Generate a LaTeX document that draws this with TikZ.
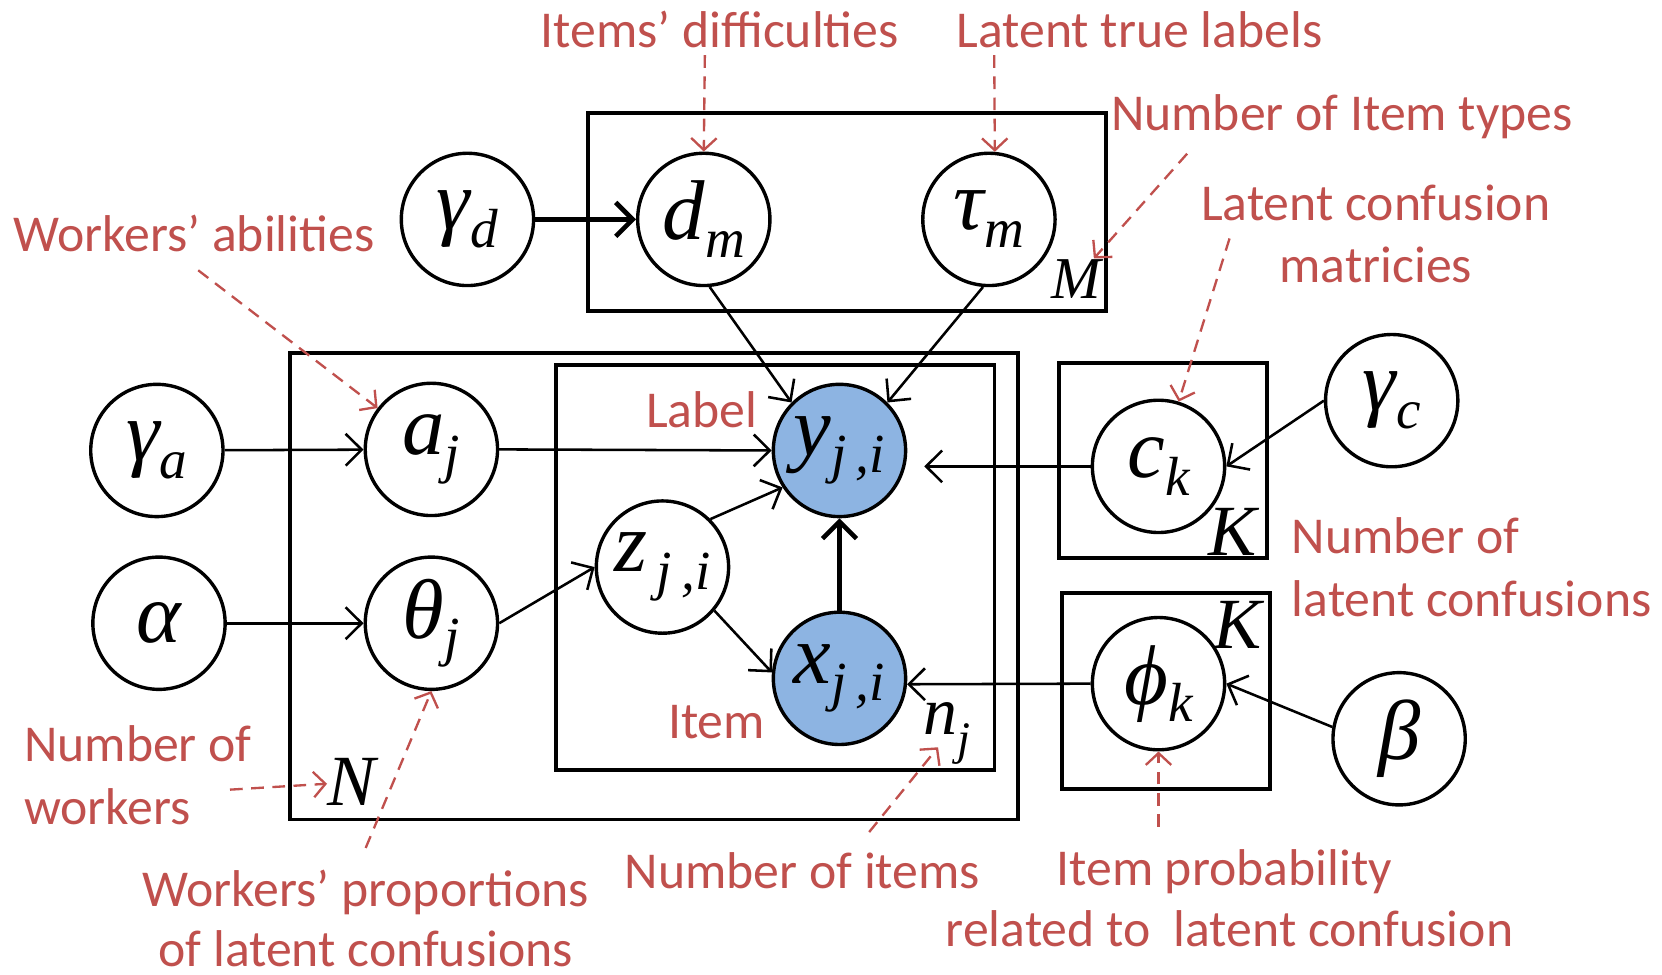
\documentclass[tikz,border=0pt]{standalone}
\usepackage{fontspec}
\setmainfont{Carlito}
\newfontfamily\mf{Liberation Serif}
\usetikzlibrary{arrows.meta}
\definecolor{lred}{RGB}{192,80,77}
\definecolor{obsblue}{RGB}{141,180,226}
\newcommand\mvar[2]{{\mf\itshape\fontsize{20}{20}\selectfont #1}\raisebox{-4.2pt}{\mf\itshape\fontsize{13}{13}\selectfont #2}}
\newcommand\mone[1]{{\mf\itshape\fontsize{20}{20}\selectfont #1}}
\begin{document}
\begin{tikzpicture}[x=0.25pt,y=-0.25pt,
  var/.style={circle,draw,line width=0.8pt,minimum size=31.2pt,inner sep=0pt},
  obs/.style={var,fill=obsblue},
  plate/.style={draw,line width=0.9pt,inner sep=0pt},
  edge/.style={line width=0.6pt,-{Straight Barb[length=3.8pt,width=7.5pt]}},
  bold edge/.style={line width=1.1pt,-{Straight Barb[length=4pt,width=8pt]}},
  note/.style={text=lred,font=\fontsize{12.2}{15}\selectfont,inner sep=0pt},
  ptr/.style={draw=lred,line width=0.55pt,dash pattern=on 3pt off 2pt,-{Straight Barb[length=2.8pt,width=6pt]}},
  platelab/.style={inner sep=0pt,font=\mf\itshape},
]
\useasboundingbox (0,0) rectangle (1568,919);

% plates
\node[plate,minimum width=122.1pt,minimum height=46.6pt] (pM) at (799,200) {};
\node[plate,minimum width=171.6pt,minimum height=110.1pt] (pN) at (617,553) {};
\node[plate,minimum width=103.4pt,minimum height=95.4pt] (pn) at (731.5,535.5) {};
\node[plate,minimum width=49.1pt,minimum height=45.9pt] (pKc) at (1097,434.5) {};
\node[plate,minimum width=49.1pt,minimum height=46.1pt] (pKp) at (1100,652) {};

% plate labels
\node[platelab,font=\mf\itshape\fontsize{14}{14}\selectfont] (Mlab) at (1015,263) {M};
\node[platelab,font=\mf\itshape\fontsize{17}{17}\selectfont] (Nlab) at (332,738) {N};
\node[platelab] (nlab) at (893,692) {{\fontsize{16}{16}\selectfont n}\raisebox{-4.5pt}{\fontsize{11}{11}\selectfont j}};
\node[platelab,font=\mf\itshape\fontsize{17}{17}\selectfont] (Kc) at (1163,502) {K};
\node[platelab,font=\mf\itshape\fontsize{17}{17}\selectfont] (Kp) at (1168,590) {K};

% variables
\node[var] (gd) at (441,207) {\mvar{γ}{d}};
\node[var] (dm) at (664,207) {\mvar{d}{m}};
\node[var] (tau) at (933,207) {\mvar{τ}{m}};
\node[var] (ga) at (148,425) {\mvar{γ}{a}};
\node[var] (aj) at (407,424) {\mvar{a}{j}};
\node[var] (al) at (150,588) {\mone{α}};
\node[var] (thj) at (407,588) {\mvar{θ}{j}};
\node[var] (z) at (625,535) {\mvar{z}{\,j\,,i}};
\node[obs] (y) at (792,425) {\mvar{y}{j\,,i}};
\node[obs] (x) at (792,640) {\mvar{x}{j\,,i}};
\node[var] (ck) at (1093,440) {\mvar{c}{k}};
\node[var] (gc) at (1313,378) {\mvar{γ}{c}};
\node[var] (phik) at (1093,645) {\mvar{ϕ}{k}};
\node[var] (beta) at (1320,697) {\mone{β}};

% edges
\draw[bold edge] (gd) -- (dm);
\draw[edge] (dm.-85) -- (y.135);
\draw[edge] (tau.-95) -- (y.45);
\draw[edge] (ga) -- (aj);
\draw[edge] (aj.east) -- (y.west);
\draw[edge] (al) -- (thj);
\draw[edge] (thj.east) -- (z.west);
\draw[edge] (z.45) -- (y.213);
\draw[edge] (z.-40) -- (x.175);
\draw[bold edge] (x) -- (y);
\draw[edge,shorten >=4pt] (ck.west) -- (ck.west -| y.east);
\draw[edge] (gc.west) -- (ck.east);
\draw[edge] (phik.west) -- (x.-5);
\draw[edge] (beta.170) -- (phik.east);

% red notes
\node[note,anchor=base] (n1) at (679,45) {Items’ difficulties};
\node[note,anchor=base] (n2) at (1075,45) {Latent true labels};
\node[note,anchor=base] (n3) at (1266,123) {Number of Item types};
\node[note,anchor=base] (n4) at (183,237) {Workers’ abilities};
\node[note,anchor=base] (n5a) at (1298,208) {Latent confusion};
\node[note,anchor=base] (n5b) at (1298,267) {matricies};
\node[note,anchor=base] (lab) at (662,403) {Label};
\node[note,anchor=base] (itm) at (676,697) {Item};
\node[note,anchor=base west] (n6a) at (1218,522) {Number of};
\node[note,anchor=base west] (n6b) at (1218,582) {latent confusions};
\node[note,anchor=base west] (n7a) at (22,718) {Number of};
\node[note,anchor=base west] (n7b) at (22,778) {workers};
\node[note,anchor=base] (n8a) at (345,855) {Workers’ proportions};
\node[note,anchor=base,text depth=0pt] (n8b) at (345,912) {of latent confusions};
\node[note,anchor=base] (n9) at (757,838) {Number of items};
\node[note,anchor=base] (n10a) at (1155,835) {Item probability};
\node[note,anchor=base] (n10b) at (1160,893) {related to\ \ latent confusion};

% pointers
\coordinate (s1) at (665,52);
\coordinate (s2) at (938,52);
\coordinate (s3) at (1120,145);
\coordinate (s4) at (187,255);
\coordinate (s5) at (1160,225);
\coordinate (s7) at (217,745);
\coordinate (s8) at (345,800);
\coordinate (s9) at (820,785);
\coordinate (t9) at (885,705);
\coordinate (s10) at (1093,780);
\draw[ptr] (s1) -- (dm.north);
\draw[ptr] (s2) -- (tau.85);
\draw[ptr] (s3) -- (Mlab);
\draw[ptr] (s4) -- (aj);
\draw[ptr] (s5) -- (ck);
\draw[ptr] (s7) -- (Nlab);
\draw[ptr] (s8) -- (thj.south);
\draw[ptr] (s9) -- (t9);
\draw[ptr] (s10) -- (phik.south);
\end{tikzpicture}
\end{document}
